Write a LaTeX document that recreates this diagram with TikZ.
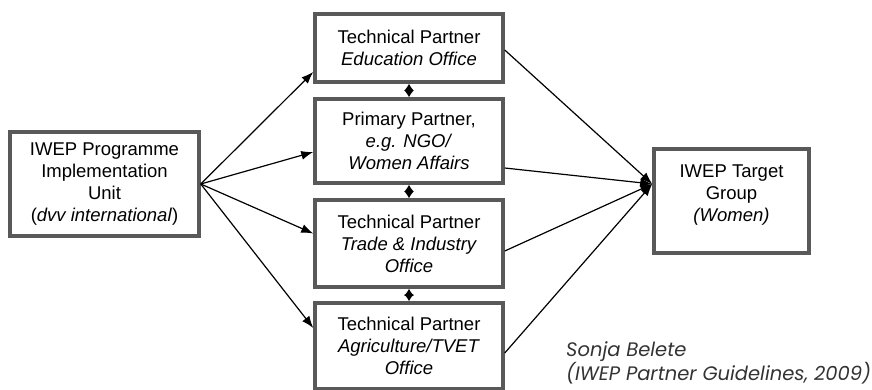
\documentclass[tikz,border=0pt]{standalone}
\usepackage{fontspec}
\setmainfont{Liberation Sans}
\newfontfamily\capfont{Poppins}
\usepackage{tikz}
\usetikzlibrary{arrows.meta}

\tikzset{
    partner/.style={draw=black!65, line width=3.5pt, fill=white, align=center,
        font=\fontsize{18.5}{22}\selectfont, inner sep=0pt},
    link/.style={line width=1.2pt, -{Latex[length=12pt,width=9pt]}},
    both/.style={line width=1.2pt, {Latex[length=7pt,width=10pt]}-{Latex[length=7pt,width=10pt]}}
}

\begin{document}
\begin{tikzpicture}[x=1pt, y=-1pt]
                    \useasboundingbox (0, 0) rectangle (872, 390);

                    \node[partner, minimum width=189pt, minimum height=104pt] (unit) at (104.5, 184)
                        {IWEP Programme\\Implementation\\Unit\\(\textit{dvv international})};

                    \node[partner, minimum width=188pt, minimum height=68pt] (edu) at (409, 48)
                        {Technical Partner\\\textit{Education Office}};
                    \node[partner, minimum width=188pt, minimum height=84pt] (ngo) at (409, 141)
                        {Primary Partner,\\\textit{e.g. NGO/}\\\textit{Women Affairs}};
                    \node[partner, minimum width=188pt, minimum height=87pt] (trade) at (409, 243.5)
                        {Technical Partner\\\textit{Trade \& Industry}\\\textit{Office}};
                    \node[partner, minimum width=188pt, minimum height=86pt] (agri) at (409, 346)
                        {Technical Partner\\\textit{Agriculture/TVET}\\\textit{Office}};

                    \node[partner, minimum width=155pt, minimum height=104pt] (target) at (731.5, 201)
                        {IWEP Target\\Group\\\textit{(Women)}\\[-6pt]\mbox{}};

                    % from the unit to the partners
                    \draw[link] (unit.east) -- ([yshift=-24pt]edu.west);
                    \draw[link] (unit.east) -- ([yshift=-11pt]ngo.west);
                    \draw[link] (unit.east) -- ([yshift=10pt]trade.west);
                    \draw[link] (unit.east) -- ([yshift=18pt]agri.west);

                    % partners work together
                    \draw[both] (edu.south) -- (ngo.north);
                    \draw[both] (ngo.south) -- (trade.north);
                    \draw[both] (trade.south) -- (agri.north);

                    % partners to the women
                    \draw[link] ([yshift=-2pt]edu.east) -- ([yshift=17pt]target.west);
                    \draw[link] ([yshift=-27pt]ngo.east) -- ([yshift=17pt]target.west);
                    \draw[link] ([yshift=-7.5pt]trade.east) -- ([yshift=17pt]target.west);
                    \draw[link] ([yshift=-7pt]agri.east) -- ([yshift=17pt]target.west);

                    \node[anchor=north west, align=left, font=\capfont\itshape\fontsize{19.5}{23}\selectfont,
                        text=black!80, inner sep=0pt] (source) at (566, 341)
                        {Sonja Belete\\(IWEP Partner Guidelines, 2009)};
                \end{tikzpicture}
\end{document}
